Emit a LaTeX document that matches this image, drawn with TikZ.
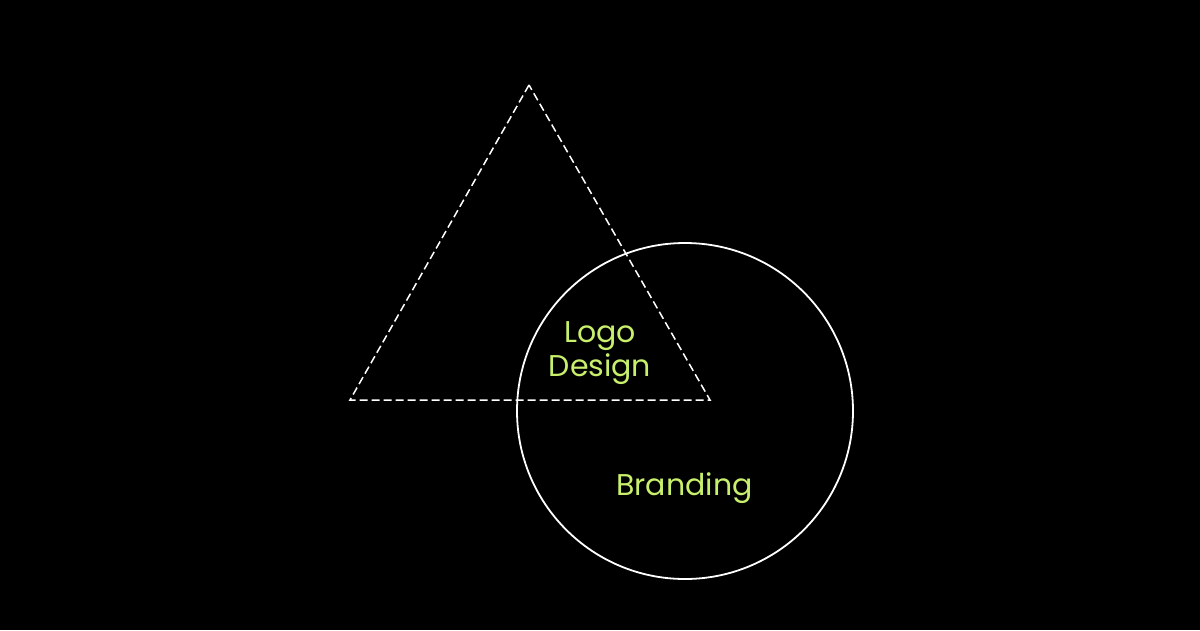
\documentclass[tikz,border=0pt]{standalone}
\usepackage{fontspec}
\setmainfont{Poppins}
\definecolor{lbl}{HTML}{C8F06C}
\begin{document}
\begin{tikzpicture}[x=1pt,y=-1pt,
  tri/.style={draw=white,line width=1.5pt,dash pattern=on 8pt off 4pt},
  circ/.style={draw=white,line width=1.8pt},
  lab/.style={text=lbl,font=\fontsize{30}{34}\selectfont,align=center,inner sep=0pt}]
\fill[black] (0,0) rectangle (1200,630);
\useasboundingbox (0,0) rectangle (1200,630);
\coordinate (A) at (529,85);
\coordinate (B) at (350,400);
\coordinate (C) at (710,400);
\draw[tri] (A) -- (B) -- (C) -- cycle;
\node[circ,circle,minimum size=336pt,inner sep=0pt] (ring) at (685,411) {};
\node[lab] (logo) at (600,353) {Logo\\Design};
\node[lab] (brand) at (684.5,488.5) {Branding};
\end{tikzpicture}
\end{document}
